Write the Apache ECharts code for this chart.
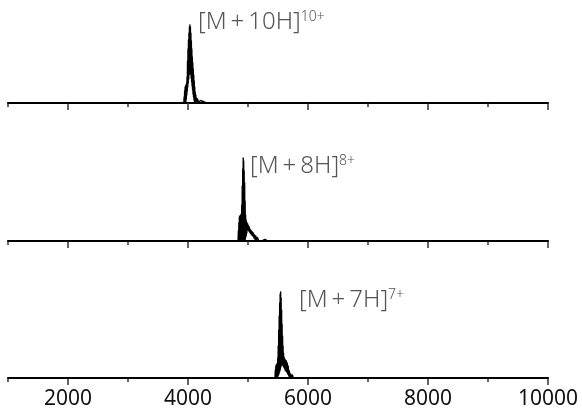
<!DOCTYPE html>
<html>
<head>
<meta charset="utf-8">
<style>
  html, body { margin: 0; padding: 0; background: #fff; }
  #chart { width: 582px; height: 410px; }
</style>
<script src="https://cdn.jsdelivr.net/npm/echarts@6/dist/echarts.min.js"></script>
</head>
<body>
<div id="chart"></div>
<script>
// 刻度
var majorTicks = [2000, 4000, 6000, 8000, 10000];
var minorTicks = [1000, 3000, 5000, 7000, 9000];

// 离子标注
var ionNames = ['[M+10H]', '[M+8H]', '[M+7H]'];
var ionCharges = ['10+', '8+', '7+'];

// 谱图数据 [m/z, 强度]
var spectrum10 = [
  [1000,0],[3930,0],
  [3936,6],[3940,1],[3944,12],[3948,1],[3952,16],[3956,1],[3960,17],[3964,1],[3968,18],[3972,4],
  [3976,20],[3980,8],[3984,26],[3988,12],[3992,42],[3996,16],[4000,54],[4004,20],[4008,63],[4012,24],
  [4016,70],[4020,28],[4024,76],[4028,32],[4032,78],[4036,33],[4040,76],[4044,29],[4048,70],[4052,25],
  [4056,62],[4060,21],[4064,54],[4068,17],[4072,46],[4076,13],[4080,40],[4084,9],[4088,34],[4092,6],
  [4096,28],[4100,3],[4104,22],[4108,1],[4112,16],[4116,1],[4120,11],[4125,1],[4130,8],[4136,1],
  [4142,5],[4150,1],[4160,4],[4172,1],[4184,3],[4196,1],[4210,2.5],[4230,0.5],[4250,1.5],[4270,0],
  [4310,0],[4320,1.5],[4330,0],[4430,0],[4440,1.2],[4450,0],[4510,0],[4520,1.5],[4530,0],
  [4650,0],[4660,1.2],[4670,0],[4910,0],[4920,1.2],[4930,0],[5170,0],[5180,1.5],[5190,0],
  [5290,0],[5300,1.2],[5310,0],[6250,0],[6265,2],[6280,0],[10000,0]
];
var spectrum8 = [
  [1000,0],[4835,0],
  [4840,10],[4844,1],[4848,18],[4852,1],[4856,24],[4860,1],[4864,25],[4868,1],[4872,25],[4876,1],
  [4880,26],[4884,1],[4888,27],[4892,1],[4896,36],[4900,1],[4904,55],[4908,1],[4912,72],[4916,1],
  [4920,83],[4924,1],[4928,80],[4932,1],[4936,70],[4940,1],[4944,58],[4948,1],[4952,40],[4956,2],
  [4960,26],[4964,4],[4968,21],[4972,6],[4976,19],[4980,8],[4984,18],[4990,11],[4996,17],[5002,11],
  [5008,15],[5014,10],[5020,14],[5026,9],[5032,12],[5038,8],[5044,11],[5050,7],[5056,10],[5064,6],
  [5072,9],[5080,5],[5090,8],[5100,3],[5110,6],[5120,1.5],[5130,5],[5140,0.5],[5155,3.5],[5180,0.5],
  [5210,2.5],[5240,0.3],[5280,1.5],[5320,0.3],[5340,0],
  [5570,0],[5583,2],[5596,0],[6940,0],[6952,2],[6964,0],[10000,0]
];
var spectrum7 = [
  [1000,0],[1600,0],[1610,1],[1620,0],[2600,0],[2610,1],[2620,0],[2900,0],[2910,1.2],[2920,0],
  [3290,0],[3300,1.2],[3310,0],[3490,0],[3500,1],[3510,0],[3690,0],[3700,1.2],[3710,0],
  [3890,0],[3900,1],[3910,0],[4090,0],[4100,1.2],[4110,0],[4290,0],[4300,1],[4310,0],
  [4490,0],[4500,1.5],[4510,0],[4690,0],[4700,1],[4710,0],[4890,0],[4900,1.2],[4910,0],
  [5090,0],[5100,1],[5110,0],[5290,0],[5300,1],[5310,0],[5450,0],
  [5456,8],[5460,1],[5464,12],[5468,1],[5472,13],[5476,1],[5480,14],[5484,1],[5488,14],[5492,1],
  [5496,20],[5500,2],[5504,32],[5508,3],[5512,48],[5516,4],[5520,62],[5524,6],[5528,75],[5532,7],
  [5536,84],[5540,9],[5544,86],[5548,11],[5552,80],[5556,13],[5560,68],[5564,14],[5568,54],[5572,13],
  [5576,42],[5580,13],[5584,32],[5588,12],[5592,25],[5596,11],[5600,21],[5606,10],[5612,19],[5618,8],
  [5624,18],[5630,7],[5638,17],[5646,6],[5654,15],[5662,4],[5670,12],[5680,2],[5690,7],[5700,0.5],
  [5712,4],[5725,0.5],[5740,3],[5755,0.3],[5770,2],[5790,0.3],[5810,1],[5830,0],
  [5940,0],[5950,1.5],[5960,0],[6490,0],[6500,1],[6510,0],[6790,0],[6800,1.2],[6810,0],
  [6990,0],[7000,1],[7010,0],[7290,0],[7300,1.2],[7310,0],[7490,0],[7500,1],[7510,0],
  [7690,0],[7700,1.2],[7710,0],[7890,0],[7900,1],[7910,0],[8090,0],[8100,1.2],[8110,0],
  [8290,0],[8300,1],[8310,0],[8440,0],[8450,1],[8460,0],[10000,0]
];

var spectra = [spectrum10, spectrum8, spectrum7];

var myChart = echarts.init(document.getElementById('chart'));

var gridTops = [3, 141, 278];
var labelPos = [[198, 10], [250, 154], [299, 288]];

var grids = [], xAxes = [], yAxes = [], series = [], texts = [];
for (var i = 0; i < 3; i++) {
  grids.push({ left: 8, right: 34, top: gridTops[i], height: 100 });
  // 主刻度 + 标签
  xAxes.push({
    type: 'value', gridIndex: i, min: 1000, max: 10000, position: 'bottom',
    splitLine: { show: false },
    axisLine: { show: true, onZero: false, lineStyle: { color: '#000', width: 2 } },
    axisTick: { show: true, customValues: majorTicks, length: 7, lineStyle: { color: '#333', width: 1.5 } },
    axisLabel: {
      show: i === 2, customValues: majorTicks, margin: 11,
      fontSize: 21, color: '#111', fontFamily: 'Noto Sans',
      formatter: function (v) { return String(v); }
    }
  });
  // 次刻度
  xAxes.push({
    type: 'value', gridIndex: i, min: 1000, max: 10000, position: 'bottom',
    splitLine: { show: false },
    axisLine: { show: false },
    axisTick: { show: true, customValues: minorTicks, length: 4, lineStyle: { color: '#333', width: 1.5 } },
    axisLabel: { show: false }
  });
  yAxes.push({ type: 'value', gridIndex: i, min: 0, max: 100, show: false });
  series.push({
    type: 'line', xAxisIndex: i * 2, yAxisIndex: i,
    data: spectra[i], showSymbol: false, silent: true,
    lineStyle: { color: '#000', width: 1.4, join: 'round', cap: 'round' }
  });
  texts.push({
    type: 'text', x: labelPos[i][0], y: labelPos[i][1],
    style: {
      text: '{m|' + ionNames[i].replace('+', '\u2009+\u2009') + '}{s|' + ionCharges[i] + '}',
      fill: '#555',
      rich: {
        m: { fontSize: 24, fontFamily: 'Noto Sans', fontWeight: 300, fill: '#555' },
        s: { fontSize: 14, fontFamily: 'Noto Sans', fontWeight: 300, fill: '#555', verticalAlign: 'top' }
      }
    }
  });
}

myChart.setOption({
  animation: false,
  grid: grids,
  xAxis: xAxes,
  yAxis: yAxes,
  series: series,
  graphic: { elements: texts }
});
</script>
</body>
</html>
